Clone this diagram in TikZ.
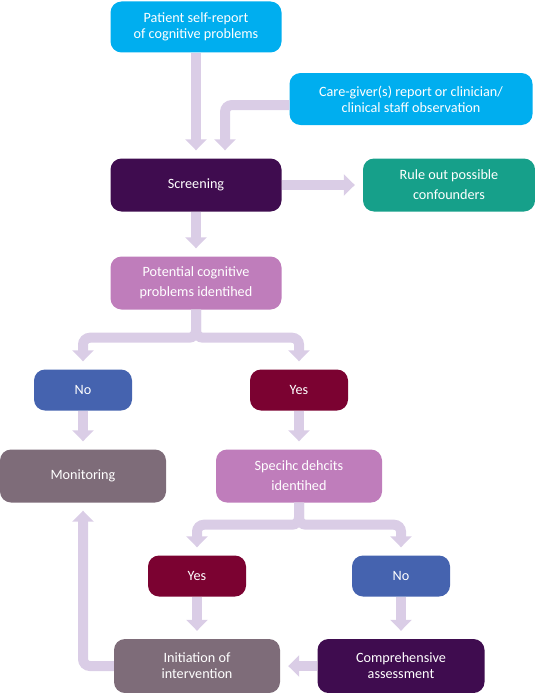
\documentclass[tikz,border=0pt]{standalone}
\usepackage{fontspec}
\setmainfont{Carlito}
\usetikzlibrary{arrows.meta}
\definecolor{skyblue}{HTML}{00AEEF}
\definecolor{plum}{HTML}{3F0C4F}
\definecolor{seagreen}{HTML}{16A08A}
\definecolor{orchid}{HTML}{BF7DBB}
\definecolor{steelblue}{HTML}{4563AF}
\definecolor{wine}{HTML}{7B0231}
\definecolor{mauvegrey}{HTML}{7E6C79}
\definecolor{lavender}{HTML}{DACDE6}

\tikzset{
  box/.style={rectangle, rounded corners=11pt, inner sep=0pt, text=white, align=center,
    font=\fontsize{14.2}{16}\selectfont},
  widelines/.style={font=\fontsize{14.2}{20}\selectfont},
  bigbox/.style={box, minimum width=168pt, minimum height=53pt},
  smallbox/.style={box, minimum width=98pt, minimum height=41pt},
  flow/.style={draw=lavender, line width=10pt, rounded corners=7pt,
    -{Triangle[width=21pt,length=11pt]}, shorten >=8pt}
}

\begin{document}
\begin{tikzpicture}[x=1pt, y=-1pt]
      \useasboundingbox (0,0) rectangle (535,693);

      \node[bigbox, fill=skyblue, minimum width=171pt, minimum height=51pt] (pat) at (196, 27) {Patient self-report\\of cognitive problems};
      \node[bigbox, fill=skyblue, minimum width=243pt, minimum height=52pt] (care) at (411, 99) {Care-giver(s) report or clinician/\\clinical staff observation};
      \node[bigbox, fill=plum, minimum width=171pt] (scr) at (196, 185) {Screening};
      \node[bigbox, widelines, fill=seagreen, minimum width=172pt] (rule) at (449, 185) {Rule out possible\\confounders};
      \node[bigbox, widelines, fill=orchid, minimum width=171pt] (pot) at (196, 283) {Potential cognitive\\problems identihed};
      \node[smallbox, fill=steelblue] (no1) at (83, 390) {No};
      \node[smallbox, fill=wine] (yes1) at (299, 390) {Yes};
      \node[bigbox, fill=mauvegrey, minimum width=166pt] (mon) at (83, 476) {Monitoring};
      \node[bigbox, widelines, fill=orchid, minimum width=166pt] (spec) at (299, 476) {Specihc dehcits\\identihed};
      \node[smallbox, fill=wine] (yes2) at (197, 576) {Yes};
      \node[smallbox, fill=steelblue] (no2) at (401, 576) {No};
      \node[bigbox, fill=mauvegrey, minimum width=166pt, minimum height=54pt] (init) at (197, 666) {Initiation of\\intervention};
      \node[bigbox, fill=plum, minimum width=167pt, minimum height=54pt] (comp) at (401, 666) {Comprehensive\\assessment};

      \draw[flow] (pat) -- (scr);
      \draw[flow] ([yshift=-6pt]care.west) -| ([xshift=29pt]scr.north);
      \draw[flow] (scr) -- (rule);
      \draw[flow] (scr) -- (pot);

      \draw[flow] (pot.south) -- ++(0,28) -| (no1.north);
      \draw[flow] (pot.south) -- ++(0,28) -| (yes1.north);
      \draw[flow] (no1) -- (mon);
      \draw[flow] (yes1) -- (spec);

      \draw[flow] (spec.south) -- ++(0,22) -| (yes2.north);
      \draw[flow] (spec.south) -- ++(0,22) -| (no2.north);
      \draw[flow] (yes2) -- (init);
      \draw[flow] (no2) -- (comp);
      \draw[flow] (comp) -- (init);
      \draw[flow] (init.west) -| (mon.south);

    \end{tikzpicture}
\end{document}
